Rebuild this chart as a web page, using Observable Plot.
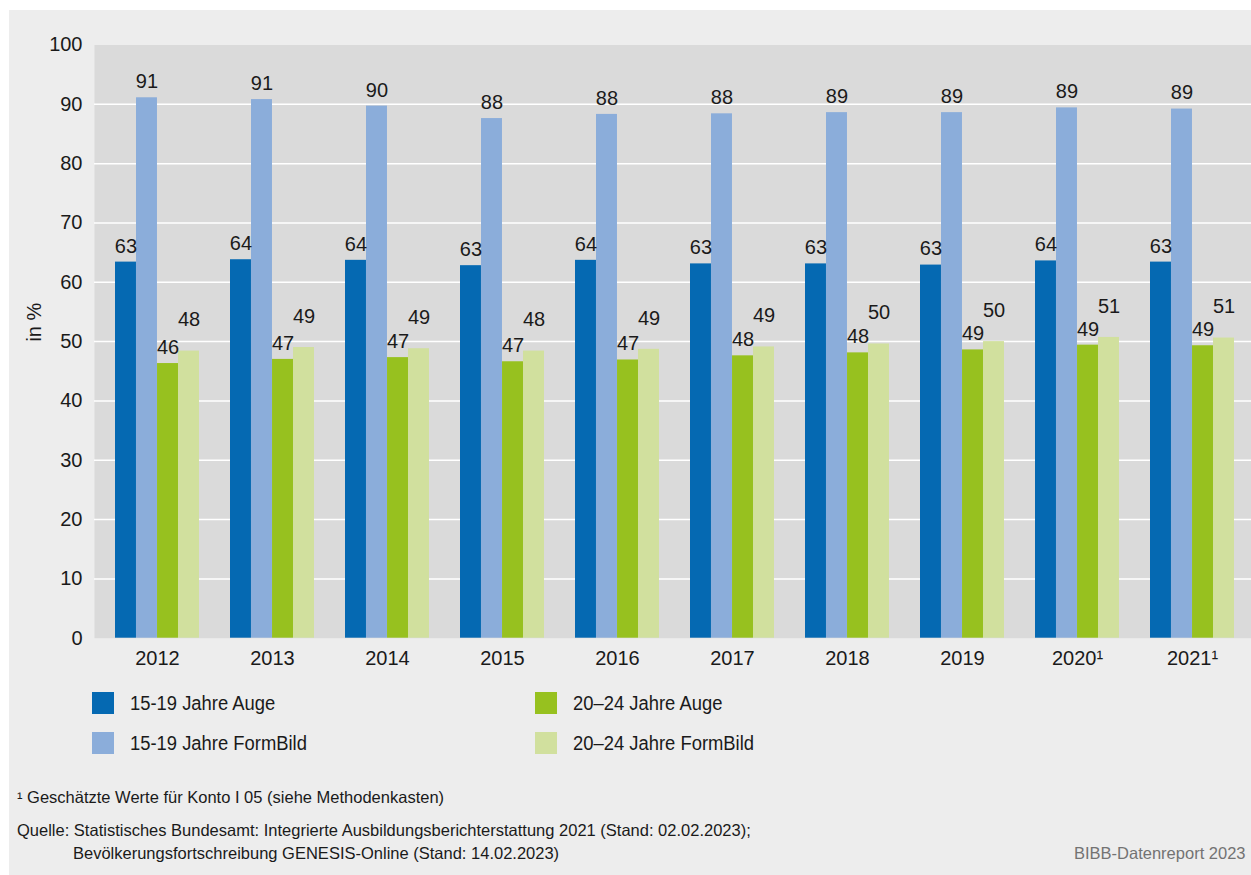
<!DOCTYPE html>
<html><head><meta charset="utf-8">
<script src="https://cdn.jsdelivr.net/npm/d3@7"></script>
<script src="https://cdn.jsdelivr.net/npm/@observablehq/plot@0.6"></script>
<style>
html,body{margin:0;padding:0;background:#fff;width:1251px;height:875px;overflow:hidden;}
body{position:relative;font-family:"Liberation Sans",Arial,sans-serif;color:#1a1a1a;}
#card{position:absolute;left:9px;top:10px;width:1242px;height:865px;background:#ededed;}
#chart{position:absolute;left:0;top:0;}
.item{position:absolute;display:flex;align-items:center;height:22px;font-size:20px;white-space:nowrap;}
.item .lbl{display:inline-block;transform:scaleX(0.92);transform-origin:left center;}
.sw{width:22px;height:22px;margin-right:16px;flex:none;}
.note{position:absolute;font-size:16.5px;line-height:20px;white-space:nowrap;}
</style></head><body>
<div id="card"></div>
<div id="chart"></div>
<div id="legend"></div>
<div class="note" style="left:17px;top:787px">¹ Geschätzte Werte für Konto I 05 (siehe Methodenkasten)</div>
<div class="note" style="left:17px;top:820px">Quelle: Statistisches Bundesamt: Integrierte Ausbildungsberichterstattung 2021 (Stand: 02.02.2023);</div>
<div class="note" style="left:73px;top:843px">Bevölkerungsfortschreibung GENESIS-Online (Stand: 14.02.2023)</div>
<div class="note" style="left:1074px;top:843px;color:#737373">BIBB-Datenreport 2023</div>
<script>
const years = ["2012","2013","2014","2015","2016","2017","2018","2019","2020","2021"];
const yearLabels = ["2012","2013","2014","2015","2016","2017","2018","2019","2020¹","2021¹"];
const seriesNames = ["15-19 Jahre Auge","15-19 Jahre FormBild","20–24 Jahre Auge","20–24 Jahre FormBild"];
const seriesColors = ["#0569b2","#8badda","#97c11f","#d1e09e"];
const auge1519     = [63.4, 63.8, 63.7, 62.8, 63.7, 63.1, 63.1, 62.9, 63.6, 63.4];
const formbild1519 = [91.1, 90.8, 89.7, 87.6, 88.3, 88.4, 88.6, 88.6, 89.4, 89.2];
const auge2024     = [46.3, 47.0, 47.3, 46.6, 46.9, 47.6, 48.1, 48.6, 49.4, 49.3];
const formbild2024 = [48.4, 49.0, 48.8, 48.4, 48.7, 49.1, 49.6, 50.0, 50.7, 50.6];
const seriesValues = [auge1519, formbild1519, auge2024, formbild2024];

const data = years.flatMap((y, i) => seriesValues.map((vals, k) => ({year: y, k, series: seriesNames[k], value: vals[i]})));

const fontFamily = '"Liberation Sans",Arial,sans-serif';
const xRange = [94, 1255], pInner = 0.273, pOuter = 0.158;
const bw = d3.scaleBand().domain(years).range(xRange).paddingInner(pInner).paddingOuter(pOuter).bandwidth();
const sub = bw / seriesNames.length;

const barMarks = seriesNames.map((s, k) => Plot.barY(data.filter(d => d.k === k), {
  x: "year", y: "value", fill: seriesColors[k],
  insetLeft: k * sub, insetRight: (seriesNames.length - 1 - k) * sub
}));
const textMarks = seriesNames.map((s, k) => Plot.text(data.filter(d => d.k === k), {
  x: "year", y: "value", text: d => String(Math.round(d.value)),
  dx: (k - 1.5) * sub, dy: k === 3 ? -31 : -16, fontSize: 20, fill: "#1a1a1a"
}));

const chart = Plot.plot({
  width: 1251, height: 680,
  marginLeft: 94, marginRight: 0, marginTop: 44.5, marginBottom: 42.3,
  style: {background: "transparent", fontSize: "20px", fontFamily, color: "#1a1a1a", overflow: "visible"},
  x: {domain: years, range: xRange, paddingInner: pInner, paddingOuter: pOuter, label: null},
  y: {domain: [0, 100], label: null},
  marks: [
    Plot.frame({fill: "#dadada", stroke: "none"}),
    Plot.gridY(d3.range(10, 100, 10), {stroke: "white", strokeOpacity: 1, strokeWidth: 1.5}),
    ...barMarks,
    ...textMarks,
    Plot.axisY(d3.range(0, 101, 10), {tickSize: 0, tickPadding: 12, label: null, fontSize: 20}),
    Plot.axisX({tickSize: 0, tickPadding: 13, label: null, fontSize: 20, tickFormat: d => yearLabels[years.indexOf(d)]}),
    Plot.text(["in %"], {frameAnchor: "left", dx: -60, rotate: -90, fontSize: 20, fill: "#1a1a1a"})
  ]
});
document.getElementById("chart").appendChild(chart);

const legend = document.getElementById("legend");
const legendPos = [[92, 692], [92, 732], [535, 692], [535, 732]];
seriesNames.forEach((s, k) => {
  const it = document.createElement("div");
  it.className = "item";
  it.style.left = legendPos[k][0] + "px";
  it.style.top = legendPos[k][1] + "px";
  it.innerHTML = `<span class="sw" style="background:${seriesColors[k]}"></span><span class="lbl">${s}</span>`;
  legend.appendChild(it);
});
</script>
</body></html>
